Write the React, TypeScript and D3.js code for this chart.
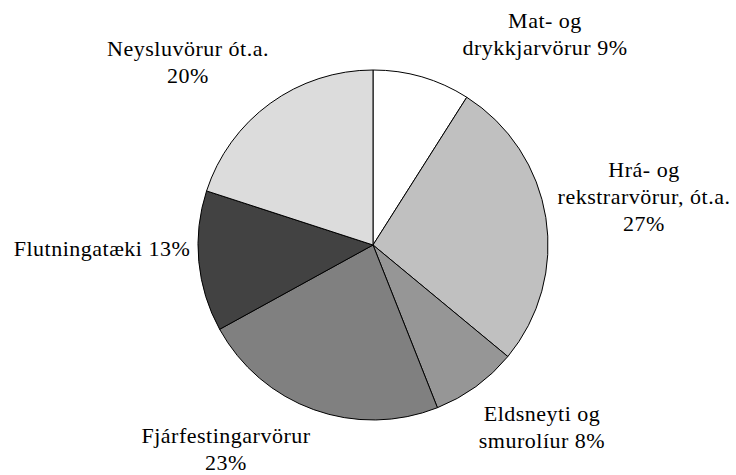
import React from 'react'
import * as d3 from 'd3'

const categories = ['Mat- og drykkjarvörur', 'Hrá- og rekstrarvörur, ót.a.', 'Eldsneyti og smurolíur', 'Fjárfestingarvörur', 'Flutningatæki', 'Neysluvörur ót.a.']
const values = [9, 27, 8, 23, 13, 20]
const fills = ['#ffffff', '#c0c0c0', '#969696', '#808080', '#424242', '#dcdcdc']
// label lines, one array per slice
const labelLines = [
  ['Mat- og', 'drykkjarvörur 9%'],
  ['Hrá- og', 'rekstrarvörur, ót.a.', '27%'],
  ['Eldsneyti og', 'smurolíur 8%'],
  ['Fjárfestingarvörur', '23%'],
  ['Flutningatæki 13%'],
  ['Neysluvörur ót.a.', '20%'],
]

const width = 736
const height = 475
const cx = 373
const cy = 245
const radius = 175
const lineGap = 27

// where the first baseline of each label sits, relative to the pie centre
const labelPos = [
  { x: 172, y: -217 },
  { x: 271, y: -68 },
  { x: 169, y: 176 },
  { x: -147, y: 198 },
  { x: -271, y: 11 },
  { x: -185, y: -189 },
]

export default function App() {
  const pie = d3.pie<number>().sort(null).value(d => d)
  const arc = d3.arc<d3.PieArcDatum<number>>().innerRadius(0).outerRadius(radius)
  const arcs = pie(values)

  return (
    <svg width={width} height={height} style={{ position: 'absolute', left: 0, top: 0 }}>
      <rect width={width} height={height} fill="#ffffff" />
      <g transform={`translate(${cx},${cy})`}>
        {arcs.map((a, i) => (
          <path key={categories[i]} d={arc(a) || ''} fill={fills[i]} stroke="#000" strokeWidth={1} />
        ))}
        {labelLines.map((lines, i) => (
          <text key={'l' + i} x={labelPos[i].x} y={labelPos[i].y} textAnchor="middle"
            style={{ fontFamily: '"Liberation Serif"', fontSize: 22, letterSpacing: 0.5 }} fill="#000">
            {lines.map((t, j) => (
              <tspan key={j} x={labelPos[i].x} y={labelPos[i].y + j * lineGap}>{t}</tspan>
            ))}
          </text>
        ))}
      </g>
    </svg>
  )
}
